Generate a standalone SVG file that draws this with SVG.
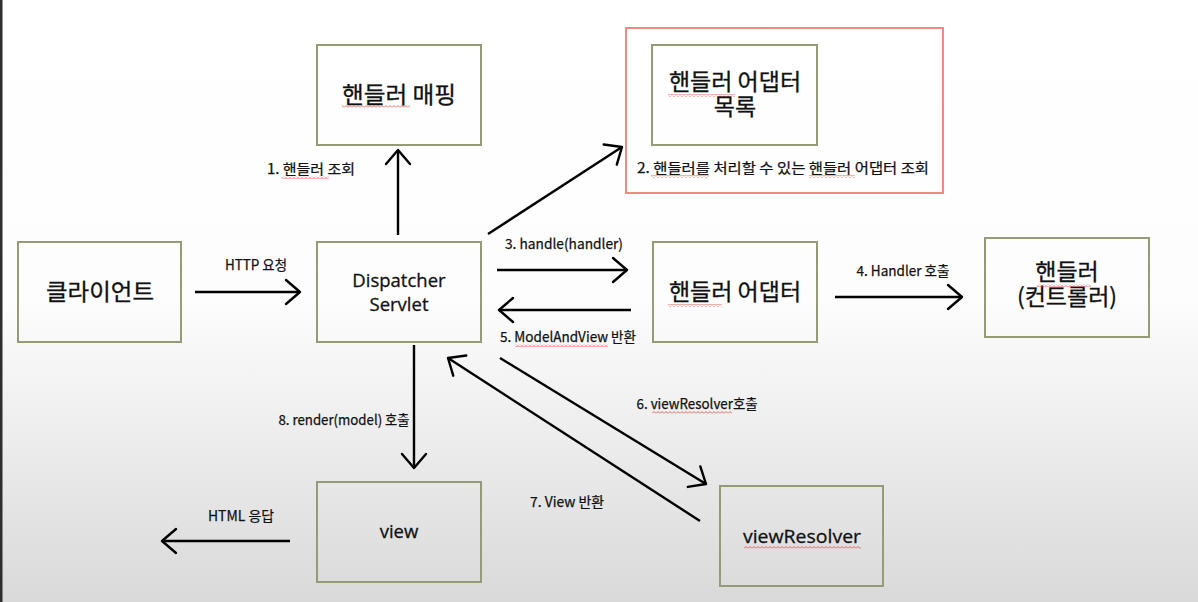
<svg xmlns="http://www.w3.org/2000/svg" width="1198" height="602" viewBox="0 0 1198 602">
<defs>
<linearGradient id="bg" x1="0" y1="0" x2="0" y2="1">
<stop offset="0" stop-color="#ffffff"/>
<stop offset="0.5" stop-color="#fdfdfd"/>
<stop offset="1" stop-color="#d9d9d9"/>
</linearGradient>
<marker id="ah" markerUnits="userSpaceOnUse" viewBox="0 0 20 28" markerWidth="20" markerHeight="28" refX="17" refY="14" orient="auto">
<path d="M3,2 L17,14 L3,26" fill="none" stroke="#000" stroke-width="2.4" stroke-linecap="round" stroke-linejoin="round"/>
</marker>
<pattern id="wave" width="4" height="3" patternUnits="userSpaceOnUse">
<path d="M0,2.5 L2,0.5 L4,2.5" fill="none" stroke="#d9443a" stroke-width="0.8"/>
</pattern>
<style>
.box{fill:none;stroke:#949b76;stroke-width:2}
.big{font-family:"Noto Sans CJK KR","Noto Sans",sans-serif;font-size:23px;fill:#111;stroke:#111;stroke-width:0.3;text-anchor:middle}
.lat{font-family:"Open Sans","Noto Sans CJK KR",sans-serif;font-size:18.5px;fill:#111;stroke:#111;stroke-width:0.3;text-anchor:middle}
.lbl{font-family:"Noto Sans CJK KR",sans-serif;font-size:14px;fill:#111;stroke:#111;stroke-width:0.25;text-anchor:middle}
.ln{fill:none;stroke:#000;stroke-width:2.4;marker-end:url(#ah)}
.sq{fill:url(#wave)}
</style>
</defs>
<rect x="0" y="0" width="1198" height="602" fill="url(#bg)"/>
<rect x="0" y="0" width="2.5" height="602" fill="#2e2e2e"/>

<g id="client">
<rect class="box" x="18" y="242" width="163" height="100"/>
<text class="big" x="100" y="300" textLength="108" lengthAdjust="spacingAndGlyphs">클라이언트</text>
</g>
<g id="dispatcher">
<rect class="box" x="317" y="242" width="164" height="100"/>
<text class="lat"><tspan x="399" y="287">Dispatcher</tspan><tspan x="399" y="311">Servlet</tspan></text>
</g>
<g id="handler-mapping">
<rect class="box" x="317" y="45" width="164" height="100"/>
<text class="big" x="399" y="103" textLength="114" lengthAdjust="spacingAndGlyphs">핸들러 매핑</text>
<rect class="sq" x="342" y="105" width="68" height="3"/>
</g>
<g id="adapter-list">
<rect x="626" y="28" width="317" height="165" fill="none" stroke="#ee8a82" stroke-width="2"/>
<rect class="box" x="652" y="45" width="165" height="100"/>
<text class="big"><tspan x="735" y="90">핸들러 어댑터</tspan><tspan x="735" y="115">목록</tspan></text>
<rect class="sq" x="668" y="94" width="67" height="3"/>
<text class="lbl" x="783" y="173" font-size="16" textLength="292" lengthAdjust="spacingAndGlyphs">2. 핸들러를 처리할 수 있는 핸들러 어댑터 조회</text>
<rect class="sq" x="651" y="175" width="58" height="3"/>
<rect class="sq" x="809" y="175" width="46" height="3"/>
</g>
<g id="handler-adapter">
<rect class="box" x="653" y="242" width="164" height="100"/>
<text class="big" x="735" y="300">핸들러 어댑터</text>
<rect class="sq" x="668" y="304" width="54" height="3"/>
</g>
<g id="handler">
<rect class="box" x="985" y="238" width="164" height="99"/>
<text class="big"><tspan x="1067" y="280">핸들러</tspan><tspan x="1067" y="305">(컨트롤러)</tspan></text>
<rect class="sq" x="1037" y="284" width="54" height="3"/>
</g>
<g id="view">
<rect class="box" x="317" y="482" width="164" height="100"/>
<text class="lat" x="399" y="538" font-size="20">view</text>
</g>
<g id="view-resolver">
<rect class="box" x="720" y="486" width="163" height="100"/>
<text class="lat" x="802" y="543" font-size="20" textLength="118" lengthAdjust="spacingAndGlyphs">viewResolver</text>
<rect class="sq" x="744" y="546" width="117" height="3"/>
</g>

<g id="connectors">
<line class="ln" x1="195" y1="292" x2="300" y2="292"/>
<text class="lbl" x="256" y="270" textLength="62" lengthAdjust="spacingAndGlyphs">HTTP 요청</text>

<line class="ln" x1="398" y1="235" x2="398" y2="150"/>
<text class="lbl" x="311" y="174" font-size="15" textLength="88" lengthAdjust="spacingAndGlyphs">1. 핸들러 조회</text>
<rect class="sq" x="282" y="176" width="47" height="3"/>

<line class="ln" x1="488" y1="234" x2="622" y2="147"/>

<line class="ln" x1="497" y1="270" x2="627" y2="270"/>
<text class="lbl" x="564" y="249" textLength="118" lengthAdjust="spacingAndGlyphs">3. handle(handler)</text>

<line class="ln" x1="835" y1="297" x2="962" y2="297"/>
<text class="lbl" x="903" y="276" textLength="93" lengthAdjust="spacingAndGlyphs">4. Handler 호출</text>

<line class="ln" x1="631" y1="310" x2="499" y2="310"/>
<text class="lbl" x="568" y="342" font-size="14.5" textLength="136" lengthAdjust="spacingAndGlyphs">5. ModelAndView 반환</text>
<rect class="sq" x="515" y="344" width="93" height="3"/>

<line class="ln" x1="500" y1="358" x2="706" y2="484"/>
<text class="lbl" x="697" y="409" textLength="121" lengthAdjust="spacingAndGlyphs">6. viewResolver호출</text>
<rect class="sq" x="652" y="411" width="80" height="3"/>

<line class="ln" x1="700" y1="521" x2="448" y2="358"/>
<text class="lbl" x="567" y="507" textLength="74" lengthAdjust="spacingAndGlyphs">7. View 반환</text>

<line class="ln" x1="414" y1="345" x2="414" y2="468"/>
<text class="lbl" x="344" y="425" textLength="131" lengthAdjust="spacingAndGlyphs">8. render(model) 호출</text>

<line class="ln" x1="290" y1="541" x2="162" y2="541"/>
<text class="lbl" x="241" y="521" textLength="66" lengthAdjust="spacingAndGlyphs">HTML 응답</text>
</g>
</svg>
